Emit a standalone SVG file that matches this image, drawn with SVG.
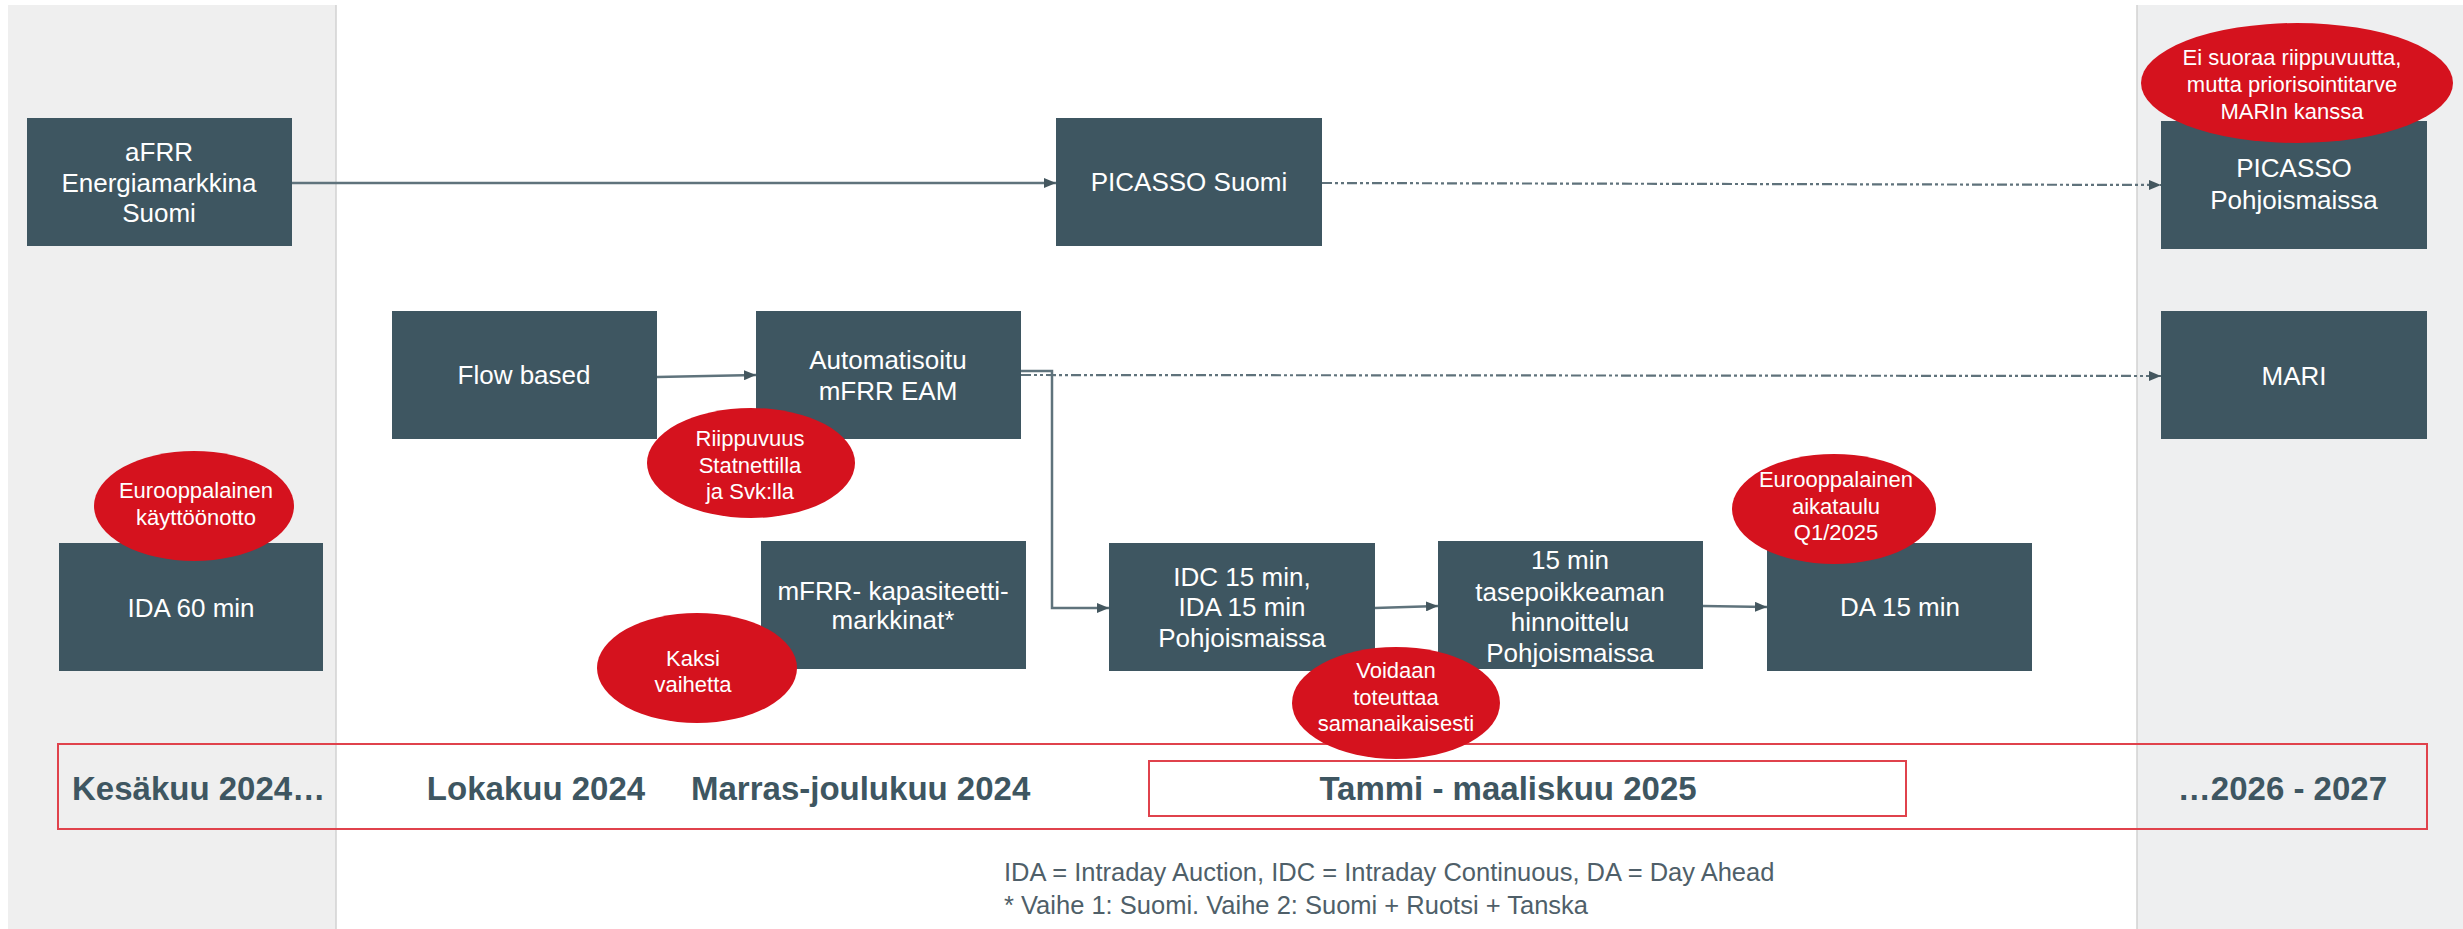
<svg xmlns="http://www.w3.org/2000/svg" width="2463" height="929" viewBox="0 0 2463 929">
<defs>
<style>
.box{fill:#3e5661;}
.bt{font-family:"Liberation Sans",Arial,sans-serif;font-size:26px;fill:#ffffff;text-anchor:middle;}
.note{fill:#d5121e;}
.nt{font-family:"Liberation Sans",Arial,sans-serif;font-size:22px;fill:#ffffff;text-anchor:middle;}
.tl{font-family:"Liberation Sans",Arial,sans-serif;font-size:33px;font-weight:bold;fill:#3e5661;}
.fn{font-family:"Liberation Sans",Arial,sans-serif;font-size:25.5px;fill:#4f5f69;}
.solid{fill:none;stroke:#5f737c;stroke-width:2.5;}
.dash{fill:none;stroke:#5f727b;stroke-width:2.2;stroke-dasharray:10 3 3 3 3 3;}
.frame{fill:none;stroke:#e0424c;stroke-width:2;}
</style>
<marker id="arr" markerUnits="userSpaceOnUse" markerWidth="12" markerHeight="10" refX="12" refY="5" orient="auto">
<path d="M0,0 L12,5 L0,10 z" fill="#44575f"/>
</marker>
</defs>
<rect x="0" y="0" width="2463" height="929" fill="#ffffff"/>
<g id="panels">
<rect x="8" y="5" width="328" height="924" fill="#efefef"/>
<line x1="336" y1="5" x2="336" y2="929" stroke="#d2d2d2" stroke-width="1.5"/>
<rect x="2137" y="5" width="326" height="924" fill="#eeeff0"/>
<line x1="2137" y1="5" x2="2137" y2="929" stroke="#d2d2d2" stroke-width="1.5"/>
</g>
<g id="timeline">
<rect class="frame" x="58" y="744" width="2369" height="85"/>
<rect class="frame" x="1149" y="761" width="757" height="55"/>
<text class="tl" x="72" y="800">Kesäkuu 2024…</text>
<text class="tl" x="536" y="800" text-anchor="middle">Lokakuu 2024</text>
<text class="tl" x="691" y="800">Marras-joulukuu 2024</text>
<text class="tl" x="1508" y="800" text-anchor="middle">Tammi - maaliskuu 2025</text>
<text class="tl" x="2387" y="800" text-anchor="end">…2026 - 2027</text>
</g>
<g id="connectors">
<line class="solid" x1="292" y1="183" x2="1056" y2="183" marker-end="url(#arr)"/>
<line class="dash" x1="1322" y1="183" x2="2161" y2="185" marker-end="url(#arr)"/>
<line class="solid" x1="657" y1="377" x2="756" y2="375" marker-end="url(#arr)"/>
<line class="dash" x1="1021" y1="375" x2="2161" y2="376" marker-end="url(#arr)"/>
<polyline class="solid" points="1021,371 1052,371 1052,608 1109,608" marker-end="url(#arr)"/>
<line class="solid" x1="1375" y1="608" x2="1438" y2="606" marker-end="url(#arr)"/>
<line class="solid" x1="1703" y1="606" x2="1767" y2="607" marker-end="url(#arr)"/>
</g>
<g id="n-afrr">
<rect class="box" x="27" y="118" width="265" height="128"/>
<text class="bt" x="159" y="161">aFRR</text>
<text class="bt" x="159" y="192">Energiamarkkina</text>
<text class="bt" x="159" y="222">Suomi</text>
</g>
<g id="n-picasso-fi">
<rect class="box" x="1056" y="118" width="266" height="128"/>
<text class="bt" x="1189" y="191">PICASSO Suomi</text>
</g>
<g id="n-picasso-nordic">
<rect class="box" x="2161" y="121" width="266" height="128"/>
<text class="bt" x="2294" y="177">PICASSO</text>
<text class="bt" x="2294" y="209">Pohjoismaissa</text>
</g>
<g id="n-flow">
<rect class="box" x="392" y="311" width="265" height="128"/>
<text class="bt" x="524" y="384">Flow based</text>
</g>
<g id="n-mfrr-eam">
<rect class="box" x="756" y="311" width="265" height="128"/>
<text class="bt" x="888" y="369">Automatisoitu</text>
<text class="bt" x="888" y="400">mFRR EAM</text>
</g>
<g id="n-mari">
<rect class="box" x="2161" y="311" width="266" height="128"/>
<text class="bt" x="2294" y="385">MARI</text>
</g>
<g id="n-ida60">
<rect class="box" x="59" y="543" width="264" height="128"/>
<text class="bt" x="191" y="617">IDA 60 min</text>
</g>
<g id="n-mfrr-cap">
<rect class="box" x="761" y="541" width="265" height="128"/>
<text class="bt" x="893" y="600">mFRR- kapasiteetti-</text>
<text class="bt" x="893" y="629">markkinat*</text>
</g>
<g id="n-idc">
<rect class="box" x="1109" y="543" width="266" height="128"/>
<text class="bt" x="1242" y="586">IDC 15 min,</text>
<text class="bt" x="1242" y="616">IDA 15 min</text>
<text class="bt" x="1242" y="647">Pohjoismaissa</text>
</g>
<g id="n-imbalance">
<rect class="box" x="1438" y="541" width="265" height="128"/>
<text class="bt" x="1570" y="569">15 min</text>
<text class="bt" x="1570" y="601">tasepoikkeaman</text>
<text class="bt" x="1570" y="631">hinnoittelu</text>
<text class="bt" x="1570" y="662">Pohjoismaissa</text>
</g>
<g id="n-da">
<rect class="box" x="1767" y="543" width="265" height="128"/>
<text class="bt" x="1900" y="616">DA 15 min</text>
</g>
<g id="note-priorisointi">
<ellipse class="note" cx="2297" cy="83" rx="156" ry="60"/>
<text class="nt" x="2292" y="65">Ei suoraa riippuvuutta,</text>
<text class="nt" x="2292" y="92">mutta priorisointitarve</text>
<text class="nt" x="2292" y="119">MARIn kanssa</text>
</g>
<g id="note-riippuvuus">
<ellipse class="note" cx="751" cy="463" rx="104" ry="55"/>
<text class="nt" x="750" y="446">Riippuvuus</text>
<text class="nt" x="750" y="473">Statnettilla</text>
<text class="nt" x="750" y="499">ja Svk:lla</text>
</g>
<g id="note-eu-kayttoonotto">
<ellipse class="note" cx="194" cy="506" rx="100" ry="55"/>
<text class="nt" x="196" y="498">Eurooppalainen</text>
<text class="nt" x="196" y="525">käyttöönotto</text>
</g>
<g id="note-kaksi">
<ellipse class="note" cx="697" cy="668" rx="100" ry="55"/>
<text class="nt" x="693" y="666">Kaksi</text>
<text class="nt" x="693" y="692">vaihetta</text>
</g>
<g id="note-voidaan">
<ellipse class="note" cx="1396" cy="703" rx="104" ry="56"/>
<text class="nt" x="1396" y="678">Voidaan</text>
<text class="nt" x="1396" y="705">toteuttaa</text>
<text class="nt" x="1396" y="731">samanaikaisesti</text>
</g>
<g id="note-eu-aikataulu">
<ellipse class="note" cx="1834" cy="509" rx="102" ry="55"/>
<text class="nt" x="1836" y="487">Eurooppalainen</text>
<text class="nt" x="1836" y="514">aikataulu</text>
<text class="nt" x="1836" y="540">Q1/2025</text>
</g>
<g id="footnote">
<text class="fn" x="1004" y="881">IDA = Intraday Auction, IDC = Intraday Continuous, DA = Day Ahead</text>
<text class="fn" x="1004" y="914">* Vaihe 1: Suomi. Vaihe 2: Suomi + Ruotsi + Tanska</text>
</g>
</svg>
